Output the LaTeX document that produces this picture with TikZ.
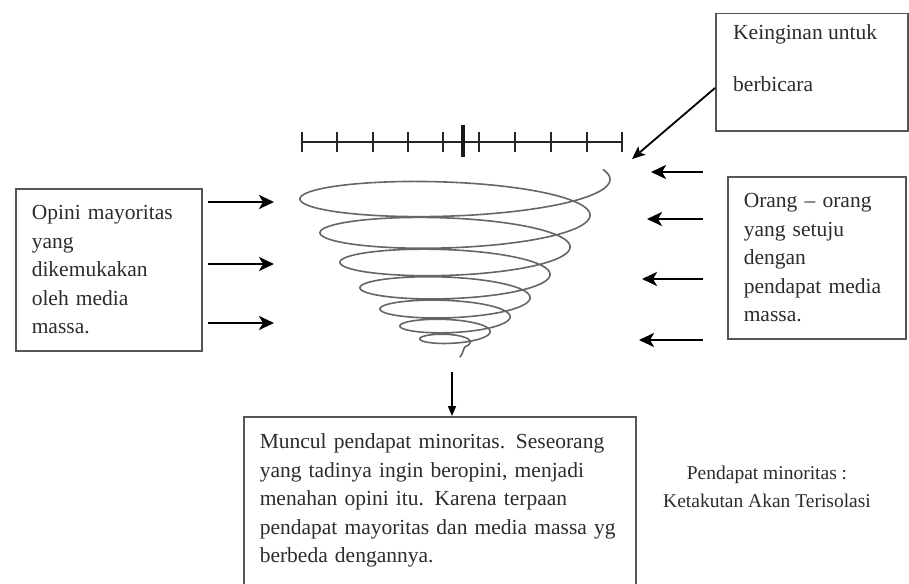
\documentclass[tikz,border=0pt]{standalone}
\usepackage{fontspec}
\setmainfont{Liberation Serif}
\usetikzlibrary{arrows.meta}
\definecolor{txt}{HTML}{2C2C2C}
\definecolor{boxc}{HTML}{555555}
\definecolor{spir}{HTML}{666666}
\tikzset{
  box/.style={draw=boxc, line width=1.5pt, rectangle, inner sep=0pt, anchor=north west},
  boxtext/.style={text=txt, align=left, font=\fontsize{21.5}{28.5}\selectfont, inner xsep=16pt, inner ysep=0pt},
  bigarrow/.style={draw=black, line width=2.6pt, -{Stealth[length=15pt,width=14pt,inset=4pt]}},
  thinarrow/.style={draw=black, line width=1.5pt, -{Triangle[length=10pt,width=8pt]}},
  bar/.style={draw=black!85, line width=2.4pt},
  tick/.style={draw=black!85, line width=2pt},
  bigtick/.style={draw=black!90, line width=4pt},
}
\begin{document}
\begin{tikzpicture}[x=1pt,y=-1pt]
\path[use as bounding box, fill=white] (0,0) rectangle (909,583);

% boxes
\node[box, boxtext, minimum width=186pt, minimum height=162pt, text width=154pt] (lbox) at (15,188)
  {Opini mayoritas\\yang\\dikemukakan\\oleh media\\massa.};
\node[box, boxtext, minimum width=178pt, minimum height=162pt, text width=146pt] (rbox) at (727,176)
  {Orang -- orang\\yang setuju\\dengan\\pendapat media\\massa.};
\node[box, boxtext, minimum width=392pt, minimum height=168pt, text width=360pt] (bbox) at (243,416)
  {Muncul pendapat minoritas. Seseorang\\yang tadinya ingin beropini, menjadi\\menahan opini itu. Karena terpaan\\pendapat mayoritas dan media massa yg\\berbeda dengannya.};
\node[box, minimum width=192pt, minimum height=117pt] (kbox) at (715,13) {};
\node[text=txt, align=left, anchor=north west, inner sep=0pt, font=\fontsize{21.5}{52}\selectfont] (ktext) at (733,24)
  {Keinginan untuk\\berbicara};

% side text
\node[text=txt, align=center, font=\fontsize{19.5}{28}\selectfont] (minor) at (767,487)
  {Pendapat minoritas :\\Ketakutan Akan Terisolasi};

% scale bar
\draw[bar] (302,142) -- (622,142);
\foreach \xx in {302,337,373,408,443,479,515,551,587,622}
  \draw[tick] (\xx,132) -- (\xx,152);
\draw[bigtick] (463,125) -- (463,157);

% spiral
\draw[spir, line width=1.6pt, line cap=round]
  plot[domain=-0.31:44.6, samples=800, smooth, variable=\t]
  ({450+(160-3.183*\t)*cos(\t r)}, {180+6.048*\t-0.05319*\t*\t+(27.5-0.5*\t)*sin(\t r)})
  .. controls +(-3,6) and +(4,-6) .. (460,357);

% left arrows
\coordinate (la1s) at (208,202); \coordinate (la1e) at (274,202);
\coordinate (la2s) at (208,264); \coordinate (la2e) at (274,264);
\coordinate (la3s) at (208,323); \coordinate (la3e) at (274,323);
\draw[bigarrow] (la1s) -- (la1e);
\draw[bigarrow] (la2s) -- (la2e);
\draw[bigarrow] (la3s) -- (la3e);

% right arrows
\coordinate (ra1s) at (703,172); \coordinate (ra1e) at (651,172);
\coordinate (ra2s) at (703,219); \coordinate (ra2e) at (647,219);
\coordinate (ra3s) at (703,279); \coordinate (ra3e) at (642,279);
\coordinate (ra4s) at (703,340); \coordinate (ra4e) at (639,340);
\draw[bigarrow] (ra1s) -- (ra1e);
\draw[bigarrow] (ra2s) -- (ra2e);
\draw[bigarrow] (ra3s) -- (ra3e);
\draw[bigarrow] (ra4s) -- (ra4e);

% diagonal arrow from the "Keinginan" box
\coordinate (ds) at (715,88);
\coordinate (de) at (632,159);
\draw[draw=black, line width=1.8pt, -{Stealth[length=13pt,width=11pt,inset=3pt]}] (ds) -- (de);

% down arrow
\coordinate (dn) at (452,372);
\draw[thinarrow] (dn) -- (dn |- bbox.north);
\end{tikzpicture}
\end{document}
